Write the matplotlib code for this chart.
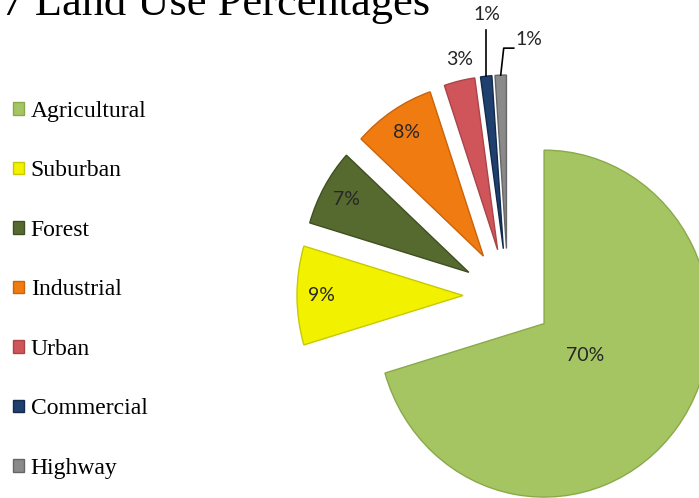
import numpy as np
import matplotlib.pyplot as plt

# data (percent of land)
categories = ['Agricultural', 'Suburban', 'Forest', 'Industrial', 'Urban', 'Commercial', 'Highway']
values = [70.4, 9.2, 7.2, 8.0, 3.0, 1.1, 1.1]
colors = ['#a5c562', '#f2f200', '#566a30', '#f07b10', '#d0555a', '#1f3f6e', '#8a8a8a']
edges = ['#8aa94a', '#c9c900', '#3f4f22', '#c8640c', '#a94448', '#142a4c', '#666666']

W, H = 699, 498
ys = 1.045  # the original picture is a bit stretched vertically

fig = plt.figure(figsize=(W / 100, H / 100), dpi=100)
ax = fig.add_axes([0, 0, 1, 1])

cx, cy = 508, (H - 295.5) / ys
r = 166
wedges, _ = ax.pie(values, colors=colors, startangle=90, counterclock=False,
                   explode=[45] * len(values), radius=r, center=(cx, cy),
                   wedgeprops=dict(linewidth=1.0))
for w, e in zip(wedges, edges):
    w.set_edgecolor(e)

ax.set_xlim(0, W)
ax.set_ylim(0, H / ys)
ax.set_aspect('auto')
ax.axis('off')


def point(w, frac, dang=0.0):
    mid = np.deg2rad((w.theta1 + w.theta2) / 2 + dang)
    c = w.center
    return c[0] + frac * w.r * np.cos(mid), c[1] + frac * w.r * np.sin(mid)


lbl = ['%.0f%%' % v for v in values]
lfont = dict(family=['Lato', 'DejaVu Sans'], fontsize=14, color='#262626')

# labels inside the slices
x, y = point(wedges[0], 0.31)
ax.text(x, y, lbl[0], ha='center', va='center', **lfont)
for i in (1, 2, 3):
    x, y = point(wedges[i], 0.85)
    ax.text(x, y, lbl[i], ha='center', va='center', **lfont)

# small slices, labels outside
x, y = point(wedges[4], 1.12, -1.5)
ax.text(x, y, lbl[4], ha='center', va='center', **lfont)

tx, ty = point(wedges[5], 1.0)
ax.plot([tx, tx], [ty, ty + 46 / ys], color='black', lw=1.2)
ax.text(tx + 1, ty + 62 / ys, lbl[5], ha='center', va='center', **lfont)

tx, ty = point(wedges[6], 1.0)
ax.plot([tx, tx + 3, tx + 13], [ty, ty + 27 / ys, ty + 27 / ys], color='black', lw=1.2)
ax.text(tx + 15, ty + 36 / ys, lbl[6], ha='left', va='center', **lfont)

# title, cut at the top and left like the reference
fig.text(430 / W, 1 - 15 / H, '1997 Land Use Percentages', ha='right', va='baseline',
         family='Liberation Serif', fontsize=32, color='black')

fig.legend(wedges, categories, loc='upper left', bbox_to_anchor=(13 / W, 1 - 101 / H),
           frameon=False, prop=dict(family='Liberation Serif', size=17),
           handlelength=0.45, handleheight=0.45, handletextpad=0.3,
           labelspacing=1.63, borderpad=0, borderaxespad=0)

fig.savefig('out.png', dpi=100)
